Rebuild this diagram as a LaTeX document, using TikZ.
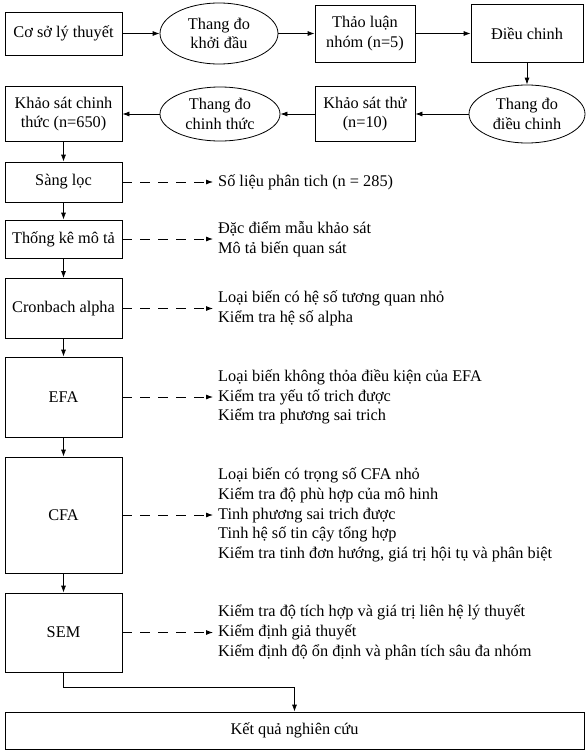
\documentclass[tikz,border=0pt]{standalone}
\usepackage{fontspec}
\setmainfont{Liberation Serif}
\usetikzlibrary{shapes.geometric,arrows.meta}

\tikzset{
  box/.style={draw, line width=0.8pt, inner sep=0pt, align=center},
  oval/.style={draw, ellipse, line width=0.8pt, inner sep=0pt, align=center},
  arr/.style={line width=0.8pt, -{Latex[length=7pt,width=5pt]}},
  dasharr/.style={arr, dash pattern=on 10pt off 8pt},
  note/.style={anchor=west, align=left, inner xsep=5pt, inner ysep=0pt},
}

\begin{document}
\begin{tikzpicture}[x=1pt, y=-1pt, font=\fontsize{16.3}{19.7}\selectfont]
  \useasboundingbox (0,0) rectangle (586,750);

  % First row: from theory to adjusted scale
  \node[box, minimum width=117pt, minimum height=43pt] (coso) at (63.5,33.5) {Cơ sở lý thuyết};
  \node[oval, minimum width=118pt, minimum height=61pt] (khoidau) at (219,33.5) {Thang đo\\khởi đầu};
  \node[box, minimum width=100pt, minimum height=57pt] (thaoluan) at (365,33.5) {Thảo luận\\nhóm (n=5)};
  \node[box, minimum width=112pt, minimum height=58pt] (dieuchinh) at (527,33.5) {Điều chinh};

  % Second row, running back to the left
  \node[oval, minimum width=116pt, minimum height=58pt] (tddieuchinh) at (527,114) {Thang đo\\điều chinh};
  \node[box, minimum width=100pt, minimum height=55pt] (khaosatthu) at (365,114) {Khảo sát thử\\(n=10)};
  \node[oval, minimum width=120pt, minimum height=54pt] (chinhthuc) at (220,114) {Thang đo\\chinh thức};
  \node[box, minimum width=117pt, minimum height=55pt] (khaosat) at (63.5,114) {Khảo sát chinh\\thức (n=650)};

  % Analysis steps in the left column
  \node[box, minimum width=117pt, minimum height=40pt] (sangloc) at (63.5,182) {Sàng lọc};
  \node[box, minimum width=117pt, minimum height=38pt] (thongke) at (63.5,239) {Thống kê mô tả};
  \node[box, minimum width=117pt, minimum height=60pt] (cronbach) at (63.5,308.5) {Cronbach alpha};
  \node[box, minimum width=117pt, minimum height=80pt] (efa) at (63.5,397) {EFA};
  \node[box, minimum width=117pt, minimum height=116pt] (cfa) at (63.5,515) {CFA};
  \node[box, minimum width=117pt, minimum height=79pt] (sem) at (63.5,632.5) {SEM};
  \node[box, minimum width=579pt, minimum height=37pt] (ketqua) at (294.5,730.5) {Kết quả nghiên cứu};

  % Notes on the right
  \node[note] (nsangloc) at (213,182) {Số liệu phân tich (n = 285)};
  \node[note] (nthongke) at (213,239) {Đặc điểm mẫu khảo sát\\Mô tả biến quan sát};
  \node[note] (ncronbach) at (213,308.5) {Loại biến có hệ số tương quan nhỏ\\Kiểm tra hệ số alpha};
  \node[note] (nefa) at (213,397) {Loại biến không thỏa điều kiện của EFA\\Kiểm tra yếu tố trich được\\Kiểm tra phương sai trich};
  \node[note] (ncfa) at (213,515) {Loại biến có trọng số CFA nhỏ\\Kiểm tra độ phù hợp của mô hinh\\Tinh phương sai trich được\\Tinh hệ số tin cậy tổng hợp\\Kiểm tra tinh đơn hướng, giá trị hội tụ và phân biệt};
  \node[note] (nsem) at (213,632.5) {Kiểm tra độ tích hợp và giá trị liên hệ lý thuyết\\Kiểm định giả thuyết\\Kiểm định độ ổn định và phân tích sâu đa nhóm};

  % Connectors
  \draw[arr] (coso) -- (khoidau);
  \draw[arr] (khoidau) -- (thaoluan);
  \draw[arr] (thaoluan) -- (dieuchinh);
  \draw[arr] (dieuchinh) -- (tddieuchinh);
  \draw[arr] (tddieuchinh) -- (khaosatthu);
  \draw[arr] (khaosatthu) -- (chinhthuc);
  \draw[arr] (chinhthuc) -- (khaosat);
  \draw[arr] (khaosat) -- (sangloc);
  \draw[arr] (sangloc) -- (thongke);
  \draw[arr] (thongke) -- (cronbach);
  \draw[arr] (cronbach) -- (efa);
  \draw[arr] (efa) -- (cfa);
  \draw[arr] (cfa) -- (sem);
  \draw[arr] (sem.south) -- ++(0,15) -| (ketqua.north);

  \draw[dasharr] (sangloc.east) -- (nsangloc.west);
  \draw[dasharr] (thongke.east) -- (nthongke.west);
  \draw[dasharr] (cronbach.east) -- (ncronbach.west);
  \draw[dasharr] (efa.east) -- (nefa.west);
  \draw[dasharr] (cfa.east) -- (ncfa.west);
  \draw[dasharr] (sem.east) -- (nsem.west);
\end{tikzpicture}
\end{document}
